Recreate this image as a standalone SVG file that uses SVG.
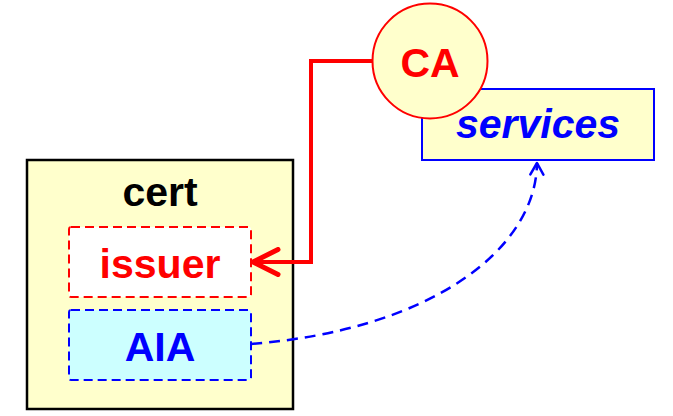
<svg xmlns="http://www.w3.org/2000/svg" width="673" height="416" viewBox="0 0 673 416">
<style>
text{font-family:"Liberation Sans",Arial,sans-serif;font-weight:bold;text-anchor:middle;font-size:41px}
</style>
<defs>
<marker id="ar" markerUnits="userSpaceOnUse" markerWidth="30" markerHeight="30" refX="22" refY="12" orient="auto" viewBox="0 0 24 24">
<path d="M2,2 L22,12 L2,22" fill="none" stroke="#ff0000" stroke-width="4" stroke-linecap="round" stroke-linejoin="round"/>
</marker>
<marker id="ab" markerUnits="userSpaceOnUse" markerWidth="16" markerHeight="16" refX="14.5" refY="8" orient="auto" viewBox="0 0 16 16">
<path d="M3,1.5 L14.5,8 L3,14.5" fill="none" stroke="#0000ff" stroke-width="2.5" stroke-linecap="round" stroke-linejoin="round"/>
</marker>
</defs>
<g id="cert">
<rect x="27" y="160" width="266" height="249" fill="#ffffcc" stroke="#000" stroke-width="2.5"/>
<text x="160" y="206" fill="#000">cert</text>
</g>
<g id="issuer">
<rect x="69" y="227" width="182" height="70" rx="2" fill="#fff" stroke="#ff0000" stroke-width="2" stroke-dasharray="9,5"/>
<text x="160" y="278" fill="#ff0000">issuer</text>
</g>
<g id="AIA">
<rect x="69" y="310" width="182" height="70" rx="2" fill="#ccffff" stroke="#0000ff" stroke-width="2" stroke-dasharray="9,5"/>
<text x="160" y="361" fill="#0000ff">AIA</text>
</g>
<g id="services">
<rect x="422" y="89" width="232" height="71" fill="#ffffcc" stroke="#0000ff" stroke-width="2"/>
<text x="538" y="138" font-style="italic" fill="#0000ff">services</text>
</g>
<g id="CA">
<circle cx="430" cy="61" r="57.5" fill="#ffffcc" stroke="#ff0000" stroke-width="2"/>
<text x="430" y="77" fill="#ff0000">CA</text>
</g>
<g id="connectors">
<path d="M372,61 H311 V262 H253" fill="none" stroke="#ff0000" stroke-width="4" marker-end="url(#ar)"/>
<path d="M251,344 C430,330 536,250 537,163" fill="none" stroke="#0000ff" stroke-width="2.5" stroke-dasharray="11,7" marker-end="url(#ab)"/>
</g>
</svg>
